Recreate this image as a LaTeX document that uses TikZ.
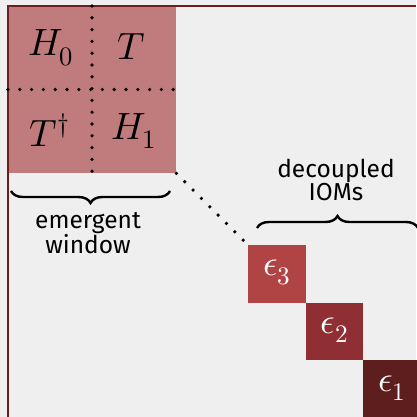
\documentclass[tikz,border=0pt]{standalone}
\usepackage{fontspec}
\setmainfont{Fira Sans}
\usepackage{unicode-math}
\setmathfont{Latin Modern Math}
\usetikzlibrary{decorations.pathreplacing}
\definecolor{bg}{HTML}{EFEFEF}
\definecolor{frame}{HTML}{6E1C1C}
\definecolor{blockc}{HTML}{C07C7C}
\definecolor{ethree}{HTML}{B04343}
\definecolor{etwo}{HTML}{902F33}
\definecolor{eone}{HTML}{5E1E1E}
\tikzset{
  dotline/.style={line width=3.6pt, line cap=round, dash pattern=on 0pt off 11.8pt},
  mathlbl/.style={font=\fontsize{38}{44}\selectfont, inner sep=0pt},
  elbl/.style={font=\fontsize{36}{42}\selectfont, text=white, inner sep=0pt},
  txt/.style={font=\fontsize{24.5}{21}\selectfont, align=center, inner sep=0pt},
  bracec/.style={decorate, decoration={brace, amplitude=12pt}, line width=2.4pt},
  ebox/.style={draw=none, minimum width=57.5pt, minimum height=57.5pt, inner sep=0pt}
}
\begin{document}
\begin{tikzpicture}[x=1pt,y=-1pt]
\useasboundingbox (0,0) rectangle (416,417);
\fill[bg] (0,0) rectangle (416,417);
% pink block
\node[fill=blockc, minimum width=168pt, minimum height=167pt, inner sep=0pt, anchor=north west] (blk) at (8,6) {};
% frame
\draw[frame, line width=2pt] (8,417) -- (8,6.5) -- (416,6.5);
% dotted dividers
\coordinate (vt) at (92,6);
\coordinate (vb) at (92,173);
\coordinate (hl) at (8,89.5);
\coordinate (hr) at (176,89.5);
\draw[dotline] (vt) -- (vb);
\draw[dotline] (hl) -- (hr);
% labels
\node[mathlbl] (h0) at (51,48) {$H_0$};
\node[mathlbl] (t) at (131,47) {$T$};
\node[mathlbl] (td) at (50,130) {$T^\dagger$};
\node[mathlbl] (h1) at (134,131) {$H_1$};
% eps boxes
\node[ebox, fill=ethree, anchor=north west] (e3) at (248,245) {};
\node[ebox, fill=etwo, anchor=north west] (e2) at (305.5,302.5) {};
\node[ebox, fill=eone, anchor=north west] (e1) at (363,360) {};
\node[elbl] at ([yshift=1pt]e3.center) {$\epsilon_3$};
\node[elbl] at ([yshift=1pt]e2.center) {$\epsilon_2$};
\node[elbl] at ([yshift=1pt]e1.center) {$\epsilon_1$};
% diagonal dotted
\draw[dotline] (blk.south east) -- (e3.north west);
% braces
\coordinate (b1l) at (11,191);
\coordinate (b1r) at (170,191);
\draw[bracec] (b1r) -- (b1l);
\node[txt] (em) at (88,233) {emergent\\window};
\coordinate (b2l) at (257,228);
\coordinate (b2r) at (418,228);
\draw[bracec] (b2l) -- (b2r);
\node[txt] (dec) at (336,180) {decoupled\\IOMs};
\end{tikzpicture}
\end{document}
